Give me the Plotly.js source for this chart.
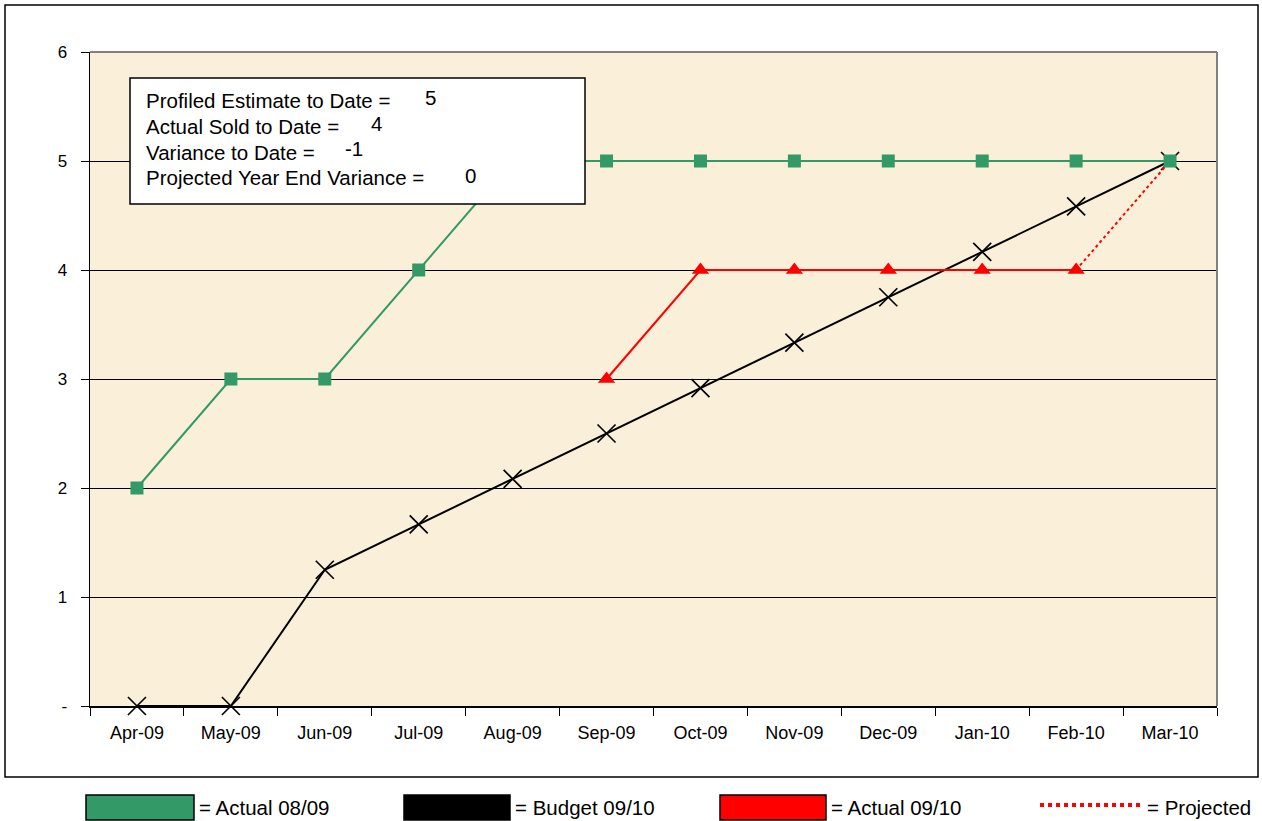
<!DOCTYPE html>
<html>
<head>
<meta charset="utf-8">
<script src="https://cdn.plot.ly/plotly-3.0.1.min.js"></script>
<style>html,body{margin:0;padding:0;background:#fff;} #chart{width:1262px;height:821px;}</style>
</head>
<body>
<div id="chart"></div>
<script>
var months = ["Apr-09","May-09","Jun-09","Jul-09","Aug-09","Sep-09","Oct-09","Nov-09","Dec-09","Jan-10","Feb-10","Mar-10"];
var actual0809 = [2,3,3,4,5,5,5,5,5,5,5,5];
var budget0910 = [0,0,1.25,1.667,2.083,2.5,2.917,3.333,3.75,4.167,4.583,5];
var actual0910Months = ["Sep-09","Oct-09","Nov-09","Dec-09","Jan-10","Feb-10"];
var actual0910 = [3,4,4,4,4,4];
var projectedMonths = ["Feb-10","Mar-10"];
var projected = [4,5];
var yTickVals = [0,1,2,3,4,5,6];
var yTickText = ["-","1","2","3","4","5","6"];
var infoLabels = ["Profiled Estimate to Date =","Actual Sold to Date =","Variance to Date =","Projected Year End Variance ="];
var infoValues = ["5","4","-1","0"];
var legendLabels = ["= Actual 08/09","= Budget 09/10","= Actual 09/10","= Projected"];

var L=90,R=1217,T=52,B=706;
function px(x){return (x-L)/(R-L);}
function py(y){return (B-y)/(B-T);}
var FONT="Liberation Sans, Arial, sans-serif";

var traces=[
 {x:months,y:budget0910,type:"scatter",mode:"lines+markers",cliponaxis:false,line:{color:"#000",width:2},
  marker:{symbol:"x-thin-open",size:18,line:{color:"#000",width:1.7}},hoverinfo:"x+y"},
 {x:projectedMonths,y:projected,type:"scatter",mode:"lines",line:{color:"#FF0000",width:2,dash:"dot"}},
 {x:actual0910Months,y:actual0910,type:"scatter",mode:"lines+markers",line:{color:"#FF0000",width:2},
  marker:{symbol:"triangle-up",size:15,color:"#FF0000"}},
 {x:months,y:actual0809,type:"scatter",mode:"lines+markers",line:{color:"#339966",width:2},
  marker:{symbol:"square",size:13,color:"#339966"}}
];

var shapes=[
 {type:"rect",xref:"paper",yref:"paper",x0:px(5),x1:px(1258),y0:py(777),y1:py(5),line:{color:"#000",width:1.5},layer:"below"},
 {type:"line",xref:"paper",yref:"paper",x0:0,x1:1,y0:1,y1:1,line:{color:"#808080",width:2}},
 {type:"line",xref:"paper",yref:"paper",x0:1,x1:1,y0:0,y1:1,line:{color:"#808080",width:2}},
 {type:"rect",xref:"paper",yref:"paper",x0:px(130),x1:px(585),y0:py(204),y1:py(78),line:{color:"#000",width:1.5},fillcolor:"#fff",layer:"above"},
 {type:"rect",xref:"paper",yref:"paper",x0:px(86),x1:px(194),y0:py(820),y1:py(795),line:{color:"#000",width:1.5},fillcolor:"#339966"},
 {type:"rect",xref:"paper",yref:"paper",x0:px(404),x1:px(510),y0:py(820),y1:py(795),line:{color:"#000",width:1.5},fillcolor:"#000"},
 {type:"rect",xref:"paper",yref:"paper",x0:px(720),x1:px(826),y0:py(820),y1:py(795),line:{color:"#000",width:1.5},fillcolor:"#FF0000"},
 {type:"line",xref:"paper",yref:"paper",x0:px(1040),x1:px(1141),y0:py(805),y1:py(805),line:{color:"#FF0000",width:4,dash:"dot"}}
];

var annotations=[];
var lineY=[100,126,152,178];
var valX=[430,376,354,470];
for(var i=0;i<infoLabels.length;i++){
 annotations.push({xref:"paper",yref:"paper",x:px(144),y:py(lineY[i]),xanchor:"left",yanchor:"middle",showarrow:false,
   text:infoLabels[i],font:{family:FONT,size:20.5,color:"#000"}});
 annotations.push({xref:"paper",yref:"paper",x:px(valX[i]),y:py(lineY[i]-3),xanchor:"center",yanchor:"middle",showarrow:false,
   text:infoValues[i],font:{family:FONT,size:20.5,color:"#000"}});
}
var legX=[197,513,829,1145];
for(var j=0;j<legendLabels.length;j++){
 annotations.push({xref:"paper",yref:"paper",x:px(legX[j]),y:py(807),xanchor:"left",yanchor:"middle",showarrow:false,
   text:legendLabels[j],font:{family:FONT,size:20.5,color:"#000"}});
}

var layout={
 width:1262,height:821,
 margin:{l:L,r:1262-R,t:T,b:821-B,pad:0},
 paper_bgcolor:"#fff",plot_bgcolor:"#FAF0DA",
 showlegend:false,
 font:{family:FONT,size:16,color:"#000"},
 xaxis:{type:"category",categoryarray:months,range:[-0.5,11.5],showgrid:false,zeroline:false,
   showline:true,linecolor:"#000",linewidth:1.5,ticks:"outside",tickson:"boundaries",ticklen:8,tickcolor:"#000",tickwidth:1,
   ticklabelstandoff:10,tickfont:{family:FONT,size:18,color:"#000"},fixedrange:true},
 yaxis:{range:[0,6],tickvals:yTickVals,ticktext:yTickText,showgrid:true,gridcolor:"#000",gridwidth:1,zeroline:false,
   showline:true,linecolor:"#000",linewidth:1.5,ticks:"outside",ticklen:8,tickcolor:"#000",tickwidth:1,
   ticklabelstandoff:10,tickfont:{family:FONT,size:17,color:"#000"},fixedrange:true},
 shapes:shapes,annotations:annotations
};
Plotly.newPlot("chart",traces,layout,{displayModeBar:false,staticPlot:true});
</script>
</body>
</html>
